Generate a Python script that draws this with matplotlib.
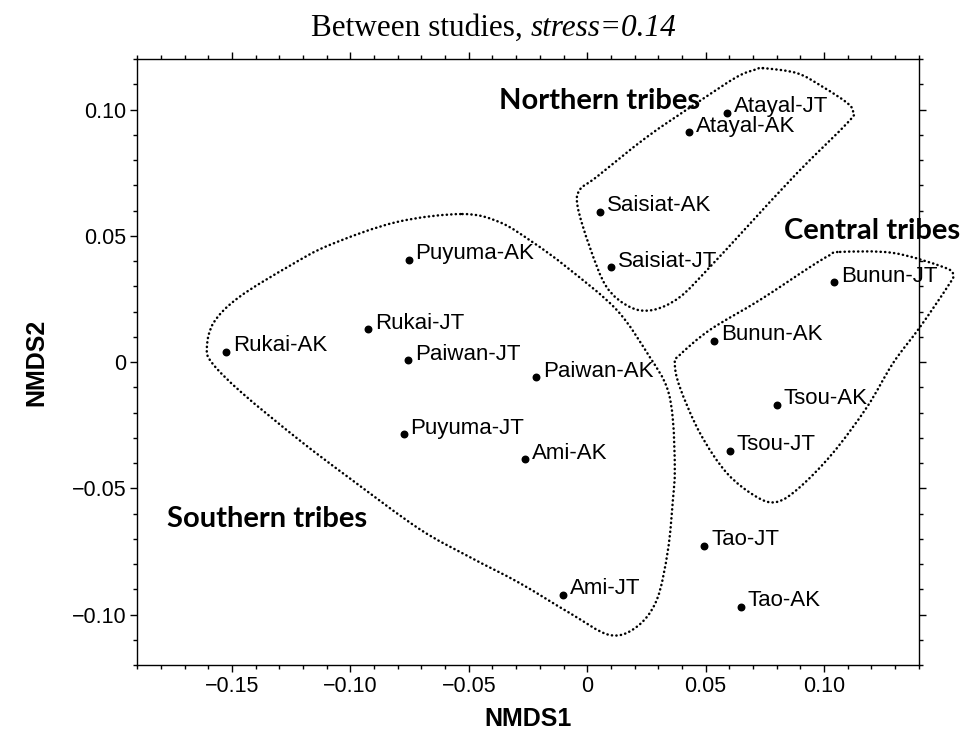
import matplotlib
matplotlib.use("Agg")
import matplotlib.pyplot as plt
from matplotlib.path import Path
from matplotlib.patches import PathPatch
from matplotlib.ticker import MultipleLocator, FuncFormatter
import numpy as np

# NMDS scores
labels = ["Atayal-JT", "Atayal-AK", "Saisiat-AK", "Saisiat-JT",
          "Bunun-JT", "Bunun-AK", "Tsou-AK", "Tsou-JT",
          "Tao-JT", "Tao-AK", "Ami-JT", "Ami-AK",
          "Puyuma-AK", "Rukai-JT", "Rukai-AK", "Paiwan-JT",
          "Paiwan-AK", "Puyuma-JT"]
nmds1 = [0.0589, 0.0429, 0.0053, 0.0102,
         0.1043, 0.0536, 0.0800, 0.0603,
         0.0494, 0.0649, -0.0102, -0.0263,
         -0.0754, -0.0924, -0.1526, -0.0758,
         -0.0215, -0.0775]
nmds2 = [0.0987, 0.0910, 0.0595, 0.0375,
         0.0316, 0.0084, -0.0170, -0.0352,
         -0.0729, -0.0969, -0.0923, -0.0385,
         0.0404, 0.0129, 0.0041, 0.0007,
         -0.0061, -0.0286]

# outlines drawn around the groups (points along each dotted curve)
north_x = [0.0742, 0.0886, 0.0996, 0.1098, 0.1123, 0.1102, 0.0886, 0.0675,
           0.0518, 0.0391, 0.0277, 0.0180, 0.0082, 0.0011, -0.0040, -0.0032,
           0.0040, 0.0252, 0.0463, 0.0632, 0.0717]
north_y = [0.1164, 0.1144, 0.1089, 0.1026, 0.0990, 0.0950, 0.0748, 0.0535,
           0.0376, 0.0257, 0.0206, 0.0218, 0.0297, 0.0455, 0.0614, 0.0681,
           0.0733, 0.0891, 0.1026, 0.1129, 0.1160]
central_x = [0.1068, 0.1292, 0.1504, 0.1546, 0.1521, 0.1406, 0.1292, 0.1182,
             0.1038, 0.0899, 0.0802, 0.0717, 0.0590, 0.0476, 0.0391, 0.0370,
             0.0391, 0.0518, 0.0730, 0.0941, 0.1026]
central_y = [0.0436, 0.0432, 0.0376, 0.0345, 0.0297, 0.0139, -0.0004, -0.0178,
             -0.0360, -0.0495, -0.0554, -0.0535, -0.0440, -0.0281, -0.0099,
             -0.0004, 0.0028, 0.0127, 0.0246, 0.0376, 0.0424]
south_x = [-0.0527, -0.0370, -0.0231, -0.0087, 0.0125, 0.0264, 0.0336, 0.0362,
           0.0370, 0.0362, 0.0341, 0.0294, 0.0209, 0.0095, -0.0074, -0.0286,
           -0.0497, -0.0709, -0.1005, -0.1216, -0.1457, -0.1584, -0.1606,
           -0.1576, -0.1470, -0.1258, -0.1089, -0.0806]
south_y = [0.0586, 0.0554, 0.0475, 0.0376, 0.0206, 0.0020, -0.0099, -0.0230,
           -0.0428, -0.0546, -0.0745, -0.0942, -0.1049, -0.1081, -0.0994,
           -0.0875, -0.0772, -0.0661, -0.0459, -0.0309, -0.0123, -0.0004,
           0.0059, 0.0158, 0.0257, 0.0380, 0.0463, 0.0554]

groups = ["Northern tribes", "Central tribes", "Southern tribes"]
group_x = [0.0053, 0.1203, -0.1351]
group_y = [0.1034, 0.0519, -0.0622]


def closed_curve(xs, ys):
    # closed Catmull-Rom through the points, handed to matplotlib as cubic beziers
    p = np.column_stack([xs, ys])
    n = len(p)
    verts = [p[0]]
    codes = [Path.MOVETO]
    for i in range(n):
        p0, p1, p2, p3 = p[i - 1], p[i], p[(i + 1) % n], p[(i + 2) % n]
        verts += [p1 + (p2 - p0) / 6, p2 - (p3 - p1) / 6, p2]
        codes += [Path.CURVE4] * 3
    return Path(verts, codes)


fig = plt.figure(figsize=(9.64, 7.34), dpi=100)
ax = fig.add_axes([0.1424, 0.094, 0.8106, 0.8256])

sans = "Liberation Sans"

ax.scatter(nmds1, nmds2, s=22, color="black", zorder=3)
for lab, x, y in zip(labels, nmds1, nmds2):
    ax.annotate(lab, (x, y), xytext=(5, 0.5), textcoords="offset points",
                ha="left", va="baseline", fontsize=16, family=sans)

for xs, ys in [(north_x, north_y), (central_x, central_y), (south_x, south_y)]:
    patch = PathPatch(closed_curve(xs, ys), fill=False, edgecolor="black",
                      lw=1.8, linestyle=(0, (0.1, 1.7)), clip_on=False)
    patch.set_capstyle("round")
    ax.add_patch(patch)

for g, x, y in zip(groups, group_x, group_y):
    ax.text(x, y, g, ha="center", va="center", fontsize=21, fontweight="bold",
            family="Lato", clip_on=False)

ax.set_xlim(-0.19, 0.14)
ax.set_ylim(-0.12, 0.12)
ax.xaxis.set_major_locator(MultipleLocator(0.05))
ax.xaxis.set_minor_locator(MultipleLocator(0.01))
ax.yaxis.set_major_locator(MultipleLocator(0.05))
ax.yaxis.set_minor_locator(MultipleLocator(0.01))


def fmt(v, pos):
    if abs(v) < 1e-9:
        return "0"
    return f"{v:.2f}".replace("-", "\u2212")


ax.xaxis.set_major_formatter(FuncFormatter(fmt))
ax.yaxis.set_major_formatter(FuncFormatter(fmt))
ax.tick_params(which="both", direction="out", top=True, right=True, width=1)
ax.tick_params(which="major", length=5, labelsize=15.5, pad=3)
ax.tick_params(which="minor", length=3)
for t in ax.get_xticklabels() + ax.get_yticklabels():
    t.set_family(sans)
for s in ax.spines.values():
    s.set_linewidth(1)

ax.set_xlabel("NMDS1", fontsize=18, fontweight="bold", family=sans, labelpad=7)
ax.set_ylabel("NMDS2", fontsize=18, fontweight="bold", family=sans, labelpad=17)

# title: upright part followed by the italic part
t1 = fig.text(0.5125, 0.951, "Between studies, ", ha="center", va="baseline",
              fontsize=22.5, family="Liberation Serif")
t2 = fig.text(0.5125, 0.951, "stress=0.14", ha="left", va="baseline",
              fontsize=22.5, family="Liberation Serif", style="italic")
fig.canvas.draw()
w1 = t1.get_window_extent().width
w2 = t2.get_window_extent().width
cx = 0.5125 * fig.bbox.width
left = cx - (w1 + w2) / 2
t1.set_ha("left")
t1.set_x(left / fig.bbox.width)
t2.set_x((left + w1) / fig.bbox.width)

fig.savefig("out.png", dpi=100)
